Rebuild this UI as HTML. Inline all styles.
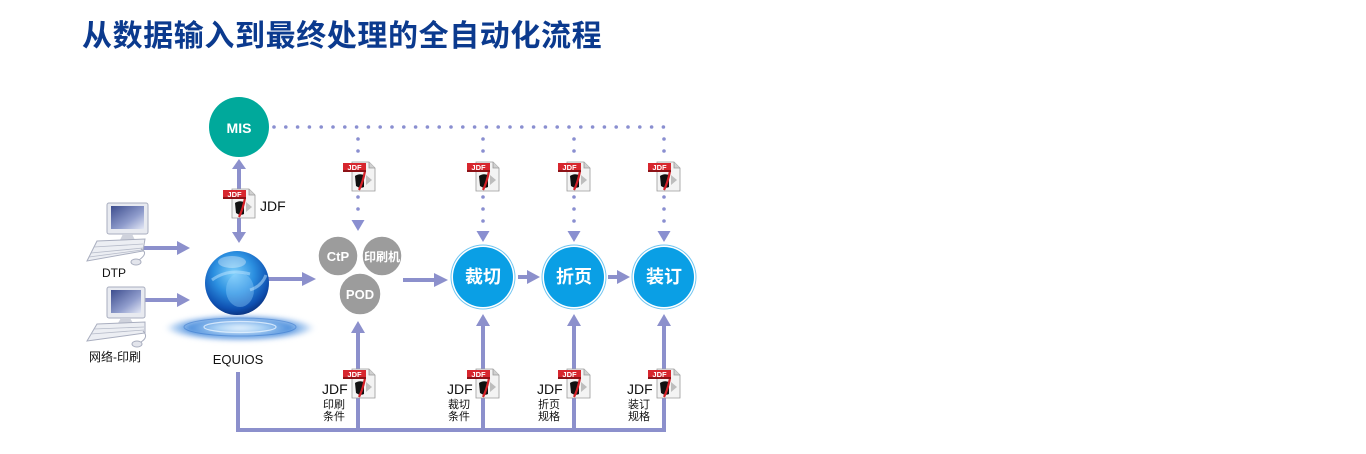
<!DOCTYPE html>
<html><head><meta charset="utf-8">
<style>
html,body{margin:0;padding:0;background:#fff;}
svg{display:block;}
text{font-family:"Liberation Sans","Noto Sans CJK SC",sans-serif;}
</style></head>
<body>
<svg width="1366" height="454" viewBox="0 0 1366 454" xmlns="http://www.w3.org/2000/svg">
<defs>
 <linearGradient id="scr" x1="0" y1="0" x2="1" y2="1">
  <stop offset="0" stop-color="#3d4d8e"/><stop offset="0.6" stop-color="#8f9ccc"/><stop offset="1" stop-color="#e3e7f5"/>
 </linearGradient>
 <radialGradient id="orb" cx="0.45" cy="0.35" r="0.7">
  <stop offset="0" stop-color="#7fd0fb"/><stop offset="0.45" stop-color="#2b8fe0"/><stop offset="0.8" stop-color="#0e4fb0"/><stop offset="1" stop-color="#0a2a6e"/>
 </radialGradient>
 <radialGradient id="rip" cx="0.5" cy="0.5" r="0.5">
  <stop offset="0" stop-color="#eef7ff"/><stop offset="0.3" stop-color="#a9d3f7"/><stop offset="0.65" stop-color="#3f86da"/><stop offset="0.85" stop-color="#7fb2ea" stop-opacity="0.6"/><stop offset="1" stop-color="#ffffff" stop-opacity="0"/>
 </radialGradient>
 <filter id="blur" x="-20%" y="-50%" width="140%" height="200%"><feGaussianBlur stdDeviation="2.5"/></filter>
</defs>

<!-- Title -->
<text x="82" y="46" font-size="30" font-weight="bold" fill="#0b3a8e" letter-spacing="0.6">从数据输入到最终处理的全自动化流程</text>

<!-- dotted connectors -->
<g fill="#8a8fd0">
 <circle cx="274" cy="127" r="1.8"/><circle cx="285.8" cy="127" r="1.8"/><circle cx="297.6" cy="127" r="1.8"/><circle cx="309.4" cy="127" r="1.8"/><circle cx="321.2" cy="127" r="1.8"/><circle cx="333" cy="127" r="1.8"/><circle cx="344.8" cy="127" r="1.8"/><circle cx="356.6" cy="127" r="1.8"/><circle cx="368.4" cy="127" r="1.8"/><circle cx="380.2" cy="127" r="1.8"/><circle cx="392" cy="127" r="1.8"/><circle cx="403.8" cy="127" r="1.8"/><circle cx="415.6" cy="127" r="1.8"/><circle cx="427.4" cy="127" r="1.8"/><circle cx="439.2" cy="127" r="1.8"/><circle cx="451" cy="127" r="1.8"/><circle cx="462.8" cy="127" r="1.8"/><circle cx="474.6" cy="127" r="1.8"/><circle cx="486.4" cy="127" r="1.8"/><circle cx="498.2" cy="127" r="1.8"/><circle cx="510" cy="127" r="1.8"/><circle cx="521.8" cy="127" r="1.8"/><circle cx="533.6" cy="127" r="1.8"/><circle cx="545.4" cy="127" r="1.8"/><circle cx="557.2" cy="127" r="1.8"/><circle cx="569" cy="127" r="1.8"/><circle cx="580.8" cy="127" r="1.8"/><circle cx="592.6" cy="127" r="1.8"/><circle cx="604.4" cy="127" r="1.8"/><circle cx="616.2" cy="127" r="1.8"/><circle cx="628" cy="127" r="1.8"/><circle cx="639.8" cy="127" r="1.8"/><circle cx="651.6" cy="127" r="1.8"/><circle cx="663.4" cy="127" r="1.8"/>
 <circle cx="358" cy="139" r="1.8"/><circle cx="358" cy="151" r="1.8"/><circle cx="358" cy="197" r="1.8"/><circle cx="358" cy="209" r="1.8"/>
 <polygon points="351.5,220 364.5,220 358,231"/>
 <circle cx="483" cy="139" r="1.8"/><circle cx="483" cy="151" r="1.8"/><circle cx="483" cy="197" r="1.8"/><circle cx="483" cy="209" r="1.8"/><circle cx="483" cy="221" r="1.8"/>
 <polygon points="476.5,231 489.5,231 483,242"/>
 <circle cx="574" cy="139" r="1.8"/><circle cx="574" cy="151" r="1.8"/><circle cx="574" cy="197" r="1.8"/><circle cx="574" cy="209" r="1.8"/><circle cx="574" cy="221" r="1.8"/>
 <polygon points="567.5,231 580.5,231 574,242"/>
 <circle cx="664" cy="139" r="1.8"/><circle cx="664" cy="151" r="1.8"/><circle cx="664" cy="197" r="1.8"/><circle cx="664" cy="209" r="1.8"/><circle cx="664" cy="221" r="1.8"/>
 <polygon points="657.5,231 670.5,231 664,242"/>
</g>

<!-- solid connectors -->
<g stroke="#8c90cc" stroke-width="4" fill="none">
 <line x1="140" y1="248" x2="179" y2="248"/>
 <line x1="140" y1="300" x2="179" y2="300"/>
 <line x1="239" y1="168" x2="239" y2="234"/>
 <line x1="268" y1="279" x2="304" y2="279"/>
 <line x1="403" y1="280" x2="436" y2="280"/>
 <line x1="518" y1="277" x2="529" y2="277"/>
 <line x1="608" y1="277" x2="619" y2="277"/>
 <polyline points="238,372 238,430 666,430"/>
 <line x1="358" y1="430" x2="358" y2="331"/>
 <line x1="483" y1="430" x2="483" y2="324"/>
 <line x1="574" y1="430" x2="574" y2="324"/>
 <line x1="664" y1="430" x2="664" y2="324"/>
</g>
<g fill="#8c90cc">
 <polygon points="177,241 190,248 177,255"/>
 <polygon points="177,293 190,300 177,307"/>
 <polygon points="232,169 239,159 246,169"/>
 <polygon points="232,232 239,243 246,232"/>
 <polygon points="302,272 316,279 302,286"/>
 <polygon points="434,273 448,280 434,287"/>
 <polygon points="527,270 540,277 527,284"/>
 <polygon points="617,270 630,277 617,284"/>
 <polygon points="351,333 358,321 365,333"/>
 <polygon points="476,326 483,314 490,326"/>
 <polygon points="567,326 574,314 581,326"/>
 <polygon points="657,326 664,314 671,326"/>
</g>

<!-- MIS -->
<circle cx="239" cy="127" r="30" fill="#00a99b"/>
<text x="239" y="133" font-size="14" font-weight="bold" fill="#fff" text-anchor="middle">MIS</text>
<text x="260" y="211" font-size="14" fill="#111">JDF</text>

<!-- Computers -->
<g transform="translate(85,203)">
 <rect x="22" y="0" width="41" height="31" rx="2" fill="#e8eaf0" stroke="#a9aebf" stroke-width="1"/>
 <rect x="26" y="3" width="33" height="23" fill="url(#scr)"/>
 <polygon points="38,31 47,31 50,37 35,37" fill="#cfd2dc"/>
 <polygon points="12,38 60,36 58,48 2,58" fill="#eceef3" stroke="#a9aebf" stroke-width="1"/>
 <g stroke="#b6bbc9" stroke-width="0.8"><line x1="9" y1="44" x2="58" y2="41"/><line x1="6" y1="50" x2="58" y2="45"/><line x1="4" y1="54" x2="57" y2="47"/></g>
 <path d="M56 46 Q64 50 54 57" stroke="#a9aebf" fill="none"/>
 <ellipse cx="51" cy="59" rx="5" ry="3" fill="#e3e5ec" stroke="#a9aebf"/>
</g>
<text x="114" y="277" font-size="12" fill="#111" text-anchor="middle">DTP</text>
<g transform="translate(85,287)">
 <rect x="22" y="0" width="38" height="31" rx="2" fill="#e8eaf0" stroke="#a9aebf" stroke-width="1"/>
 <rect x="26" y="3" width="30" height="23" fill="url(#scr)"/>
 <polygon points="36,31 45,31 48,36 33,36" fill="#cfd2dc"/>
 <polygon points="12,37 60,35 60,46 2,54" fill="#eceef3" stroke="#a9aebf" stroke-width="1"/>
 <g stroke="#b6bbc9" stroke-width="0.8"><line x1="9" y1="42" x2="59" y2="40"/><line x1="6" y1="47" x2="59" y2="43"/></g>
 <path d="M58 44 Q64 50 56 55" stroke="#a9aebf" fill="none"/>
 <ellipse cx="52" cy="57" rx="5" ry="3" fill="#e3e5ec" stroke="#a9aebf"/>
</g>
<text x="115" y="361" font-size="12" fill="#111" text-anchor="middle">网络-印刷</text>

<!-- EQUIOS orb -->
<ellipse cx="240" cy="328" rx="78" ry="14" fill="url(#rip)" filter="url(#blur)" opacity="0.9"/>
<ellipse cx="240" cy="327" rx="36" ry="5.5" fill="none" stroke="#e6f3ff" stroke-width="1.2" opacity="0.8"/>
<ellipse cx="240" cy="327" rx="56" ry="9" fill="none" stroke="#2b6cc8" stroke-width="1" opacity="0.45"/>
<circle cx="237" cy="283" r="32" fill="url(#orb)"/>
<ellipse cx="240" cy="290" rx="14" ry="17" fill="#9fd8ff" opacity="0.35"/>
<path d="M212 280 Q228 268 250 274" stroke="#bfe6ff" stroke-width="3" fill="none" opacity="0.5"/>
<path d="M250 290 Q262 286 266 275" stroke="#bfe6ff" stroke-width="3" fill="none" opacity="0.5"/>
<ellipse cx="232" cy="262" rx="14" ry="6" fill="#ffffff" opacity="0.35"/>
<text x="238" y="364" font-size="13" fill="#111" text-anchor="middle">EQUIOS</text>

<!-- gray process circles -->
<g stroke="#fff" stroke-width="1.5" fill="#9c9c9c">
 <circle cx="338" cy="256" r="20"/>
 <circle cx="382" cy="256" r="20"/>
 <circle cx="360" cy="294" r="21"/>
</g>
<text x="338" y="261" font-size="13" font-weight="bold" fill="#fff" text-anchor="middle">CtP</text>
<text x="382" y="261" font-size="12" font-weight="bold" fill="#fff" text-anchor="middle">印刷机</text>
<text x="360" y="299" font-size="13" font-weight="bold" fill="#fff" text-anchor="middle">POD</text>

<!-- blue circles -->
<g>
 <circle cx="483" cy="277" r="32.5" fill="#72c6f1"/><circle cx="483" cy="277" r="31.5" fill="#fff"/><circle cx="483" cy="277" r="30" fill="#0a9fe5"/>
 <circle cx="574" cy="277" r="32.5" fill="#72c6f1"/><circle cx="574" cy="277" r="31.5" fill="#fff"/><circle cx="574" cy="277" r="30" fill="#0a9fe5"/>
 <circle cx="664" cy="277" r="32.5" fill="#72c6f1"/><circle cx="664" cy="277" r="31.5" fill="#fff"/><circle cx="664" cy="277" r="30" fill="#0a9fe5"/>
</g>
<text x="483" y="283" font-size="18" font-weight="bold" fill="#fff" text-anchor="middle">裁切</text>
<text x="574" y="283" font-size="18" font-weight="bold" fill="#fff" text-anchor="middle">折页</text>
<text x="664" y="283" font-size="18" font-weight="bold" fill="#fff" text-anchor="middle">装订</text>

<!-- JDF icons -->
<g transform="translate(223,187)">
 <path d="M9 2 H26 L32 8 V31 H9 Z" fill="#f3f3f3" stroke="#9a9a9a" stroke-width="0.8"/><path d="M26 2 V8 H32" fill="#d0d0d0" stroke="#9a9a9a" stroke-width="0.8"/>
 <path d="M23 15 L29 20 L23 25 Z" fill="#bdbdbd"/><path d="M12 16 Q16 13 21 15 L21 27 Q17 29 13 26 Z" fill="#111"/>
 <path d="M22 11 Q20 22 16 30" stroke="#d42028" stroke-width="2.2" fill="none"/>
 <rect x="0" y="3" width="23" height="9" fill="#d7262e"/><rect x="0" y="10" width="23" height="2" fill="#8e1217"/>
 <text x="11.5" y="10" font-size="7.5" font-weight="bold" fill="#fff" text-anchor="middle">JDF</text>
</g>
<g transform="translate(343,160)">
 <path d="M9 2 H26 L32 8 V31 H9 Z" fill="#f3f3f3" stroke="#9a9a9a" stroke-width="0.8"/><path d="M26 2 V8 H32" fill="#d0d0d0" stroke="#9a9a9a" stroke-width="0.8"/>
 <path d="M23 15 L29 20 L23 25 Z" fill="#bdbdbd"/><path d="M12 16 Q16 13 21 15 L21 27 Q17 29 13 26 Z" fill="#111"/>
 <path d="M22 11 Q20 22 16 30" stroke="#d42028" stroke-width="2.2" fill="none"/>
 <rect x="0" y="3" width="23" height="9" fill="#d7262e"/><rect x="0" y="10" width="23" height="2" fill="#8e1217"/>
 <text x="11.5" y="10" font-size="7.5" font-weight="bold" fill="#fff" text-anchor="middle">JDF</text>
</g>
<g transform="translate(467,160)">
 <path d="M9 2 H26 L32 8 V31 H9 Z" fill="#f3f3f3" stroke="#9a9a9a" stroke-width="0.8"/><path d="M26 2 V8 H32" fill="#d0d0d0" stroke="#9a9a9a" stroke-width="0.8"/>
 <path d="M23 15 L29 20 L23 25 Z" fill="#bdbdbd"/><path d="M12 16 Q16 13 21 15 L21 27 Q17 29 13 26 Z" fill="#111"/>
 <path d="M22 11 Q20 22 16 30" stroke="#d42028" stroke-width="2.2" fill="none"/>
 <rect x="0" y="3" width="23" height="9" fill="#d7262e"/><rect x="0" y="10" width="23" height="2" fill="#8e1217"/>
 <text x="11.5" y="10" font-size="7.5" font-weight="bold" fill="#fff" text-anchor="middle">JDF</text>
</g>
<g transform="translate(558,160)">
 <path d="M9 2 H26 L32 8 V31 H9 Z" fill="#f3f3f3" stroke="#9a9a9a" stroke-width="0.8"/><path d="M26 2 V8 H32" fill="#d0d0d0" stroke="#9a9a9a" stroke-width="0.8"/>
 <path d="M23 15 L29 20 L23 25 Z" fill="#bdbdbd"/><path d="M12 16 Q16 13 21 15 L21 27 Q17 29 13 26 Z" fill="#111"/>
 <path d="M22 11 Q20 22 16 30" stroke="#d42028" stroke-width="2.2" fill="none"/>
 <rect x="0" y="3" width="23" height="9" fill="#d7262e"/><rect x="0" y="10" width="23" height="2" fill="#8e1217"/>
 <text x="11.5" y="10" font-size="7.5" font-weight="bold" fill="#fff" text-anchor="middle">JDF</text>
</g>
<g transform="translate(648,160)">
 <path d="M9 2 H26 L32 8 V31 H9 Z" fill="#f3f3f3" stroke="#9a9a9a" stroke-width="0.8"/><path d="M26 2 V8 H32" fill="#d0d0d0" stroke="#9a9a9a" stroke-width="0.8"/>
 <path d="M23 15 L29 20 L23 25 Z" fill="#bdbdbd"/><path d="M12 16 Q16 13 21 15 L21 27 Q17 29 13 26 Z" fill="#111"/>
 <path d="M22 11 Q20 22 16 30" stroke="#d42028" stroke-width="2.2" fill="none"/>
 <rect x="0" y="3" width="23" height="9" fill="#d7262e"/><rect x="0" y="10" width="23" height="2" fill="#8e1217"/>
 <text x="11.5" y="10" font-size="7.5" font-weight="bold" fill="#fff" text-anchor="middle">JDF</text>
</g>
<g transform="translate(343,367)">
 <path d="M9 2 H26 L32 8 V31 H9 Z" fill="#f3f3f3" stroke="#9a9a9a" stroke-width="0.8"/><path d="M26 2 V8 H32" fill="#d0d0d0" stroke="#9a9a9a" stroke-width="0.8"/>
 <path d="M23 15 L29 20 L23 25 Z" fill="#bdbdbd"/><path d="M12 16 Q16 13 21 15 L21 27 Q17 29 13 26 Z" fill="#111"/>
 <path d="M22 11 Q20 22 16 30" stroke="#d42028" stroke-width="2.2" fill="none"/>
 <rect x="0" y="3" width="23" height="9" fill="#d7262e"/><rect x="0" y="10" width="23" height="2" fill="#8e1217"/>
 <text x="11.5" y="10" font-size="7.5" font-weight="bold" fill="#fff" text-anchor="middle">JDF</text>
</g>
<g transform="translate(467,367)">
 <path d="M9 2 H26 L32 8 V31 H9 Z" fill="#f3f3f3" stroke="#9a9a9a" stroke-width="0.8"/><path d="M26 2 V8 H32" fill="#d0d0d0" stroke="#9a9a9a" stroke-width="0.8"/>
 <path d="M23 15 L29 20 L23 25 Z" fill="#bdbdbd"/><path d="M12 16 Q16 13 21 15 L21 27 Q17 29 13 26 Z" fill="#111"/>
 <path d="M22 11 Q20 22 16 30" stroke="#d42028" stroke-width="2.2" fill="none"/>
 <rect x="0" y="3" width="23" height="9" fill="#d7262e"/><rect x="0" y="10" width="23" height="2" fill="#8e1217"/>
 <text x="11.5" y="10" font-size="7.5" font-weight="bold" fill="#fff" text-anchor="middle">JDF</text>
</g>
<g transform="translate(558,367)">
 <path d="M9 2 H26 L32 8 V31 H9 Z" fill="#f3f3f3" stroke="#9a9a9a" stroke-width="0.8"/><path d="M26 2 V8 H32" fill="#d0d0d0" stroke="#9a9a9a" stroke-width="0.8"/>
 <path d="M23 15 L29 20 L23 25 Z" fill="#bdbdbd"/><path d="M12 16 Q16 13 21 15 L21 27 Q17 29 13 26 Z" fill="#111"/>
 <path d="M22 11 Q20 22 16 30" stroke="#d42028" stroke-width="2.2" fill="none"/>
 <rect x="0" y="3" width="23" height="9" fill="#d7262e"/><rect x="0" y="10" width="23" height="2" fill="#8e1217"/>
 <text x="11.5" y="10" font-size="7.5" font-weight="bold" fill="#fff" text-anchor="middle">JDF</text>
</g>
<g transform="translate(648,367)">
 <path d="M9 2 H26 L32 8 V31 H9 Z" fill="#f3f3f3" stroke="#9a9a9a" stroke-width="0.8"/><path d="M26 2 V8 H32" fill="#d0d0d0" stroke="#9a9a9a" stroke-width="0.8"/>
 <path d="M23 15 L29 20 L23 25 Z" fill="#bdbdbd"/><path d="M12 16 Q16 13 21 15 L21 27 Q17 29 13 26 Z" fill="#111"/>
 <path d="M22 11 Q20 22 16 30" stroke="#d42028" stroke-width="2.2" fill="none"/>
 <rect x="0" y="3" width="23" height="9" fill="#d7262e"/><rect x="0" y="10" width="23" height="2" fill="#8e1217"/>
 <text x="11.5" y="10" font-size="7.5" font-weight="bold" fill="#fff" text-anchor="middle">JDF</text>
</g>

<!-- bottom labels -->
<g fill="#111">
 <text x="322" y="394" font-size="14">JDF</text>
 <text x="323" y="408" font-size="11">印刷</text>
 <text x="323" y="420" font-size="11">条件</text>
 <text x="447" y="394" font-size="14">JDF</text>
 <text x="448" y="408" font-size="11">裁切</text>
 <text x="448" y="420" font-size="11">条件</text>
 <text x="537" y="394" font-size="14">JDF</text>
 <text x="538" y="408" font-size="11">折页</text>
 <text x="538" y="420" font-size="11">规格</text>
 <text x="627" y="394" font-size="14">JDF</text>
 <text x="628" y="408" font-size="11">装订</text>
 <text x="628" y="420" font-size="11">规格</text>
</g>
</svg>
</body></html>
